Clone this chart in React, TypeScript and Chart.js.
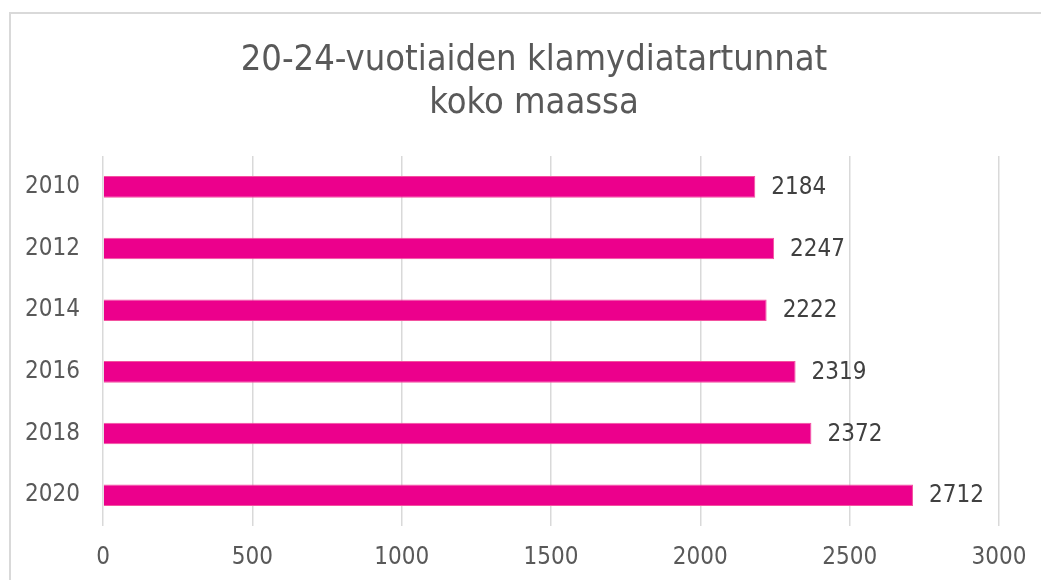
import React, { useEffect, useRef } from 'react';
import { Chart, registerables } from 'chart.js';

Chart.register(...registerables);

const years = ['2010', '2012', '2014', '2016', '2018', '2020'];
const infections = [2184, 2247, 2222, 2319, 2372, 2712];
const titleLines = ['20-24-vuotiaiden klamydiatartunnat', 'koko maassa'];
const xMin = 0;
const xMax = 3000;
const xStep = 500;

const FONT = '"DejaVu Sans Condensed", "DejaVu Sans", sans-serif';

const decorPlugin = {
  id: 'decor',
  beforeDraw(chart: any) {
    const ctx = chart.ctx;
    ctx.save();
    ctx.strokeStyle = '#d9d9d9';
    ctx.lineWidth = 2;
    ctx.strokeRect(10, 13, 1200, 800);
    ctx.fillStyle = '#595959';
    ctx.font = `36px ${FONT}`;
    ctx.textAlign = 'center';
    ctx.textBaseline = 'alphabetic';
    ctx.fillText(titleLines[0], 534, 70);
    ctx.fillText(titleLines[1], 534, 113);
    ctx.restore();
  },
  afterDatasetsDraw(chart: any) {
    const ctx = chart.ctx;
    const meta = chart.getDatasetMeta(0);
    ctx.save();
    ctx.fillStyle = '#404040';
    ctx.font = `24px ${FONT}`;
    ctx.textAlign = 'left';
    ctx.textBaseline = 'middle';
    meta.data.forEach((el: any, i: number) => {
      ctx.fillText(String(infections[i]), el.x + 16, el.y + 1);
    });
    ctx.restore();
  },
};

export default function App() {
  const ref = useRef<HTMLCanvasElement>(null);
  useEffect(() => {
    if (!ref.current) return;
    const chart = new Chart(ref.current, {
      type: 'bar',
      data: {
        labels: years,
        datasets: [
          {
            data: infections,
            backgroundColor: '#ec008c',
            borderColor: '#f3529f',
            borderWidth: 1,
            categoryPercentage: 1,
            barPercentage: 0.35,
          },
        ],
      },
      options: {
        indexAxis: 'y',
        animation: false,
        responsive: false,
        layout: { padding: { top: 156, right: 42, bottom: 0, left: 0 } },
        plugins: {
          legend: { display: false },
          title: { display: false },
          tooltip: { enabled: false },
        },
        scales: {
          x: {
            min: xMin,
            max: xMax,
            border: { display: false },
            grid: { color: '#d9d9d9', lineWidth: 1.5, drawTicks: false },
            ticks: {
              stepSize: xStep,
              color: '#595959',
              font: { family: FONT, size: 24 },
              padding: 17,
              maxRotation: 0,
              callback: (v: any) => String(v),
            },
            afterFit(scale: any) {
              scale.height = 54;
              scale.paddingRight = 0;
              scale.paddingLeft = 0;
            },
          },
          y: {
            border: { display: false },
            grid: { display: false, drawTicks: false },
            ticks: {
              color: '#595959',
              font: { family: FONT, size: 24 },
              padding: 23,
            },
            afterFit(scale: any) {
              scale.width = 103;
            },
          },
        },
      },
      plugins: [decorPlugin],
    });
    return () => chart.destroy();
  }, []);
  return (
    <div style={{ position: 'fixed', left: 0, top: 0, width: 1041, height: 580, background: '#fff' }}>
      <canvas ref={ref} width={1041} height={580} style={{ display: 'block' }} />
    </div>
  );
}
